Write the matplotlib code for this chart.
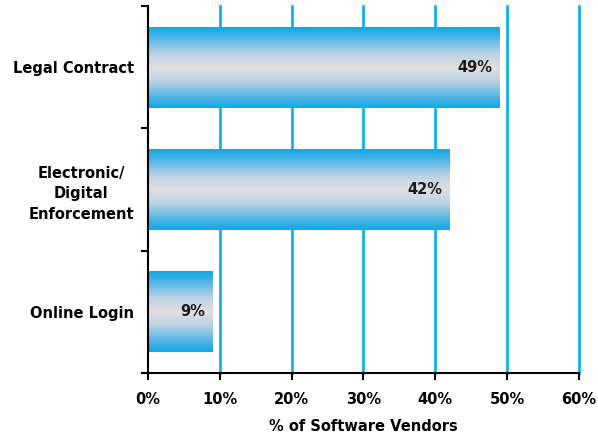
import numpy as np
import matplotlib
matplotlib.use("Agg")
import matplotlib.pyplot as plt
from matplotlib.colors import LinearSegmentedColormap

categories = ["Legal Contract", "Electronic/\nDigital\nEnforcement", "Online Login"]
values = [49, 42, 9]
xticks = [0, 10, 20, 30, 40, 50, 60]
xlabel = "% of Software Vendors"

plt.rcParams["font.family"] = ["DejaVu Sans"]

fig = plt.figure(figsize=(5.98, 4.36), dpi=100)
ax = fig.add_axes([0.2475, 0.1445, 0.7205, 0.8415])

blue = "#0eaae6"
grid_blue = "#14b2ec"
cmap = LinearSegmentedColormap.from_list(
    "bar", [(0.0, blue), (0.1, "#3eb0e6"), (0.33, "#bcd2e4"), (0.5, "#e0e0e0"),
            (0.67, "#bcd2e4"), (0.9, "#3eb0e6"), (1.0, blue)])
grad = np.linspace(0, 1, 256).reshape(-1, 1)

bar_h = 0.66
for i, v in enumerate(values):
    ax.imshow(grad, cmap=cmap, aspect="auto", interpolation="bicubic",
              extent=(0, v, i + bar_h / 2, i - bar_h / 2), zorder=3)
    ax.text(v - 1, i, f"{v}%", ha="right", va="center", fontsize=10.5,
            fontweight="bold", color="#1a1a1a", zorder=4)

for x in xticks[1:]:
    ax.axvline(x, color=grid_blue, lw=2, zorder=1, clip_on=False)

ax.set_xlim(0, 60)
ax.set_ylim(2.5, -0.5)
ax.set_xticks(xticks)
ax.set_xticklabels([f"{x}%" for x in xticks], fontsize=10.5, fontweight="bold")
ax.set_yticks([-0.5, 0.5, 1.5, 2.5])
ax.set_yticklabels([])
ax.set_yticks([0, 1, 2], minor=True)
ax.set_yticklabels(categories, minor=True, fontsize=10.5, fontweight="bold",
                   multialignment="center", linespacing=1.45)
ax.tick_params(axis="y", which="minor", length=0, pad=10)
ax.tick_params(axis="both", which="major", length=5, width=1.5, color="black")
ax.tick_params(axis="x", pad=9)
ax.set_xlabel(xlabel, fontsize=10.5, fontweight="bold", labelpad=8)

for s in ["top", "right"]:
    ax.spines[s].set_visible(False)
for s in ["left", "bottom"]:
    ax.spines[s].set_linewidth(1.5)
    ax.spines[s].set_zorder(5)

fig.savefig("out.png", dpi=100)
